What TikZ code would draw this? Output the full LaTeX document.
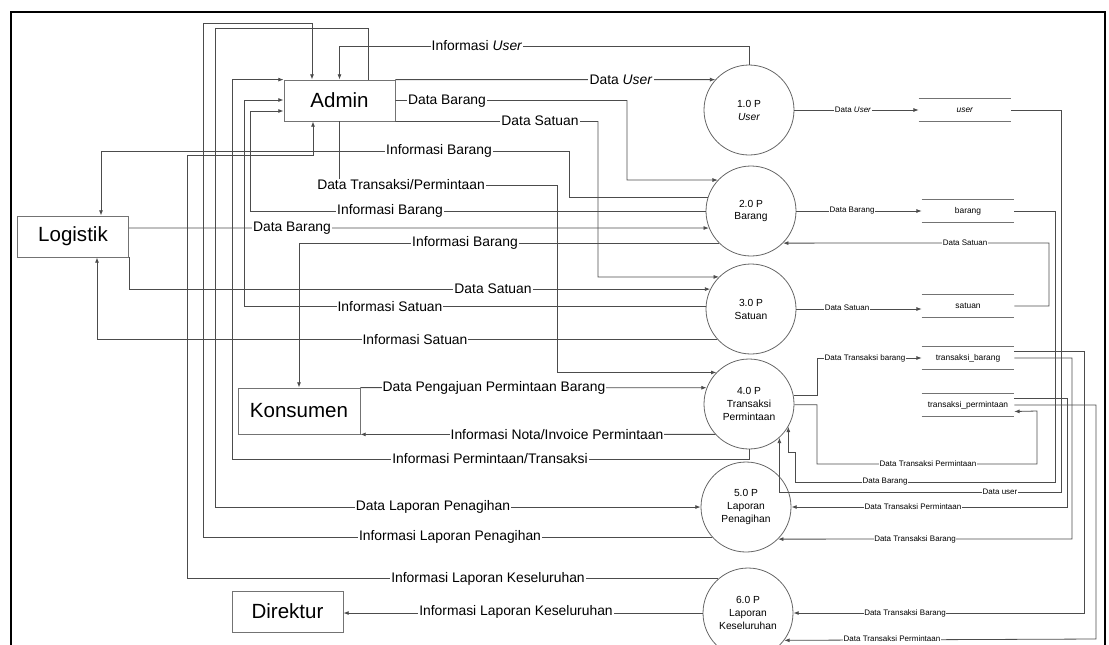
\documentclass[tikz,border=0pt]{standalone}
\usepackage{fontspec}
\setmainfont{Liberation Sans}
\usetikzlibrary{arrows.meta}

\begin{document}
\begin{tikzpicture}[x=0.75pt,y=-0.75pt,
    flow/.style={draw=black!70, line width=0.6pt},
    arr/.style={flow, -{Latex[length=4pt,width=3pt]}},
    entitas/.style={draw=black!55, line width=0.6pt, minimum width=83.25pt, minimum height=30.75pt, inner sep=0pt, font=\fontsize{15.4}{18}\selectfont},
    proses/.style={circle, draw=black!60, line width=0.6pt, minimum size=67.5pt, inner sep=0pt, align=center, font=\fontsize{7.7}{9.7}\selectfont},
    simpan/.style={minimum width=69pt, minimum height=16.5pt, inner sep=0pt, font=\fontsize{6.3}{7.5}\selectfont},
    lbl/.style={fill=white, inner sep=0.8pt, font=\fontsize{10.4}{12}\selectfont},
    lblk/.style={fill=white, inner sep=0.5pt, font=\fontsize{6}{7}\selectfont}]
    \useasboundingbox (0,0) rectangle (1109,644);
    %bingkai
    \draw[line width=1.5pt] (11,660) |- (1105,12) -- (1105,660);
    %entitas
    \node[entitas] (adm) at (339.5,100.5) {Admin};
    \node[entitas] (log) at (73,236.5) {Logistik};
    \node[entitas, minimum width=91.5pt, minimum height=34.5pt] (kon) at (299,411) {Konsumen};
    \node[entitas] (dir) at (287.5,611.5) {Direktur};
    %proses
    \node[proses] (p1) at (749,110) {1.0 P\\\textit{User}};
    \node[proses] (p2) at (751,211) {2.0 P\\Barang};
    \node[proses] (p3) at (751,309) {3.0 P\\Satuan};
    \node[proses] (p4) at (749,404) {4.0 P\\Transaksi\\Permintaan};
    \node[proses] (p5) at (746,507) {5.0 P\\Laporan\\Penagihan};
    \node[proses] (p6) at (748,613) {6.0 P\\Laporan\\Keseluruhan};
    %data store
    \node[simpan] (su) at (965,110) {\textit{user}};
    \node[simpan] (sb) at (968,211) {barang};
    \node[simpan] (ss) at (968,306) {satuan};
    \node[simpan] (stb) at (968,358) {transaksi\_barang};
    \node[simpan] (stp) at (968,405) {transaksi\_permintaan};
    \foreach \s in {su,sb,ss,stb,stp} {
        \draw[black!55, line width=0.6pt] (\s.north west) -- (\s.north east);
        \draw[black!55, line width=0.6pt] (\s.south west) -- (\s.south east);
    }
    %alur admin
    \draw[arr] (p1.north) |- (adm.north |- 0,46) -- (adm.north);
    \draw[arr] (adm.north east) -- (p1.138);
    \draw[arr] (adm.east) -| (627,180) -- (p2.137);
    \draw[arr] (adm.south east) -| (598,277) -- (p3.135);
    \draw[arr] (adm.south) |- (557,185) |- (p4.136);
    \draw[arr] (p2.west) -| (250,111) -- (adm.west |- 0,111);
    \draw[arr] (p3.177) -| (244,100) -- (adm.west |- 0,100);
    \draw[arr] (p4.south) |- (232,459) |- (adm.north west);
    \draw[arr] (p5.222) -| (203,23) -| (adm.north -| 312,0);
    \draw[arr] (adm.north -| 368,0) |- (215,28) |- (p5.west);
    \draw[arr] (p6.131) -| (187,155) -| (adm.south -| 313,0);
    %alur logistik
    \draw[arr] (p2.162) -| (569,151) -| (log.north -| 101,0);
    \draw[arr] (log.east |- 0,228) -- (p2.202);
    \draw[arr] (log.south east) |- (p3.154);
    \draw[arr] (p3.222) -| (log.south -| 97,0);
    %alur konsumen dan direktur
    \draw[arr] (p2.225) -| (kon.north);
    \draw[arr] (kon.north east) -- (p4.159);
    \draw[arr] (p4.222) -- (kon.south east);
    \draw[arr] (p6.west) -- (dir.east |- p6.west);
    %alur data store
    \draw[arr] (p1.east) -- (su.west);
    \draw[arr] (p2.east) -- (sb.west);
    \draw[arr] (p3.east) -- (ss.west |- p3.east);
    \draw[arr] (ss.east) -| (1049,243) -- (p2.315);
    \draw[arr] (p4.11) -| (817,358) -- (stb.west);
    \draw[arr] (p4.359) -| (817,464) -| (1037,411) -- (stp.352);
    \draw[arr] (su.east) -| (1061,492) -| (p4.312);
    \draw[arr] (sb.east) -| (1055,482) -| (795,452) -| (p4.330);
    \draw[arr] (stp.8) -| (1067,507) -- (p5.east);
    \draw[arr] (stb.east) -| (1072,539) -- (p5.315);
    \draw[arr] (stb.8) -| (1084,613) -- (p6.east);
    \draw[arr] (stp.east) -| (1096,639) -- (p6.323);
    %label
    \node[lbl] (l1) at (477,46) {Informasi \textit{User}};
    \node[lbl] (l2) at (621,80) {Data \textit{User}};
    \node[lbl] (l3) at (447,101) {Data Barang};
    \node[lbl] (l4) at (540,121) {Data Satuan};
    \node[lbl] (l5) at (439,151) {Informasi Barang};
    \node[lbl] (l6) at (401,185) {Data Transaksi/Permintaan};
    \node[lbl] (l7) at (390,211) {Informasi Barang};
    \node[lbl] (l8) at (292,228) {Data Barang};
    \node[lbl] (l9) at (465,243) {Informasi Barang};
    \node[lbl] (l10) at (493,289) {Data Satuan};
    \node[lbl] (l11) at (390,307) {Informasi Satuan};
    \node[lbl] (l12) at (415,340) {Informasi Satuan};
    \node[lbl] (l13) at (494,388) {Data Pengajuan Permintaan Barang};
    \node[lbl] (l14) at (557,435) {Informasi Nota/Invoice Permintaan};
    \node[lbl] (l15) at (490,459) {Informasi Permintaan/Transaksi};
    \node[lbl] (l16) at (433,507) {Data Laporan Penagihan\ };
    \node[lbl] (l17) at (450,537) {Informasi Laporan Penagihan\ };
    \node[lbl] (l18) at (488,579) {Informasi Laporan Keseluruhan};
    \node[lbl] (l19) at (516,612) {Informasi Laporan Keseluruhan};
    %label kecil
    \node[lblk] (k1) at (853,110) {Data \textit{User}};
    \node[lblk] (k2) at (852,211) {Data Barang};
    \node[lblk] (k3) at (847,308) {Data Satuan};
    \node[lblk] (k4) at (965,243) {Data Satuan};
    \node[lblk] (k5) at (865,358) {Data Transaksi barang};
    \node[lblk] (k6) at (928,464) {Data Transaksi Permintaan};
    \node[lblk] (k7) at (885,482) {Data Barang};
    \node[lblk] (k8) at (1000,492) {Data user};
    \node[lblk] (k9) at (913,507) {Data Transaksi Permintaan};
    \node[lblk] (k10) at (915,539) {Data Transaksi Barang};
    \node[lblk] (k11) at (905,613) {Data Transaksi Barang};
    \node[lblk] (k12) at (892,639) {Data Transaksi Permintaan};
\end{tikzpicture}
\end{document}
